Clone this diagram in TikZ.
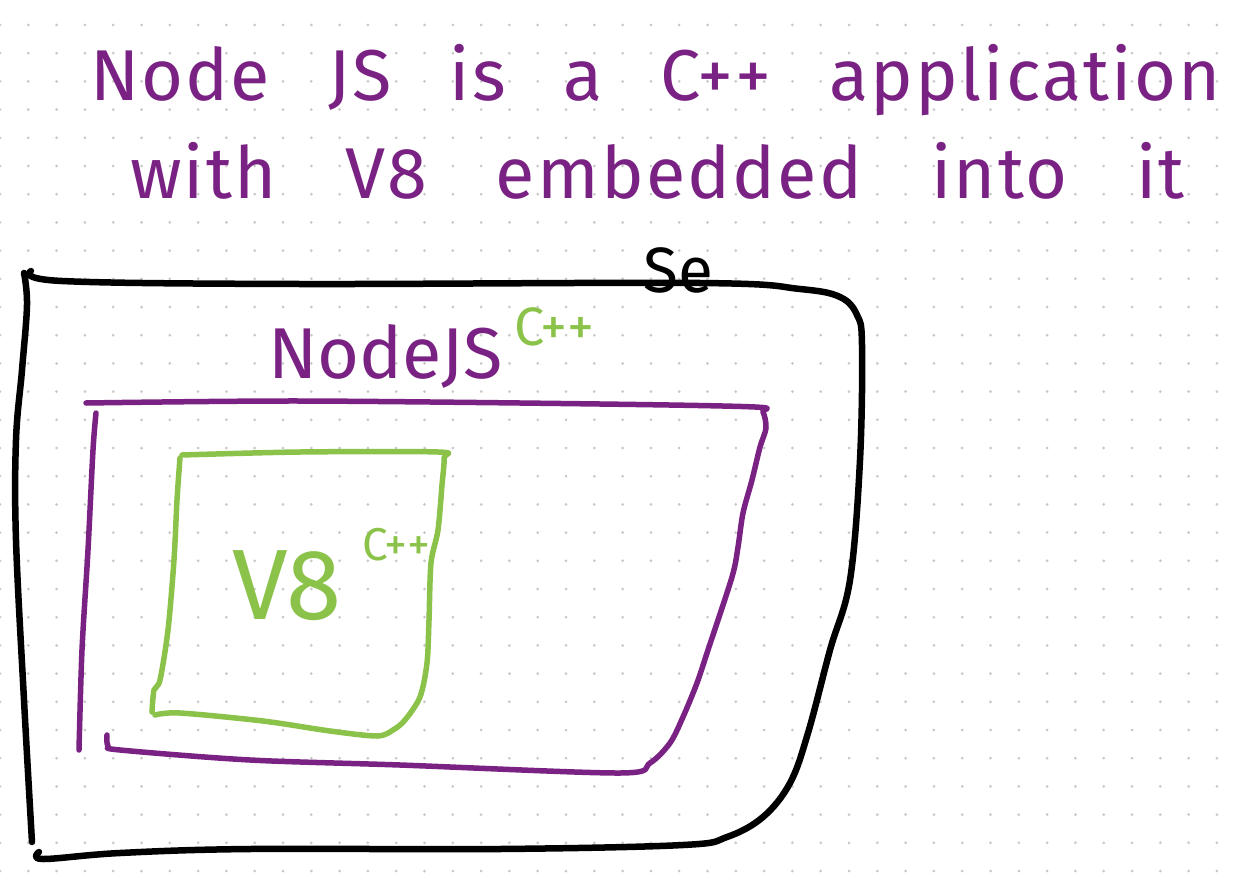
\documentclass[tikz,border=0pt]{standalone}
\usepackage{fontspec}
\setmainfont{Fira Sans}
\newfontfamily\handfont[LetterSpace=3]{Fira Sans}
\usetikzlibrary{positioning}
\definecolor{inkpurple}{RGB}{122,34,132}
\definecolor{inkgreen}{RGB}{139,195,74}
\definecolor{dotgray}{RGB}{200,200,200}
\tikzset{
  titleline/.style ={anchor=base west, inner sep=0pt, text=inkpurple,
    font=\handfont\fontsize{72}{80}\selectfont},
  boxlabel/.style  ={anchor=base west, inner sep=0pt},
  blackink/.style  ={draw=black, line width=6.5pt, line cap=round, line join=round},
  purpleink/.style ={draw=inkpurple, line width=5.5pt, line cap=round, line join=round},
  greenink/.style  ={draw=inkgreen, line width=5.5pt, line cap=round, line join=round},
}

\begin{document}
\begin{tikzpicture}[x=1pt, y=-1pt]

  \useasboundingbox (0,0) rectangle (1237,875);
  \fill[white] (0,0) rectangle (1237,875);
  % dotted paper
  \foreach \i in {0,...,43}
    \foreach \j in {0,...,30}
      \fill[dotgray] (28.3*\i, 25+28.2*\j) circle (1.5pt);

  \node[titleline, execute at begin node={\spaceskip=58pt\relax}] (titleone) at (90,100)
    {Node JS is a C++ application};
  \node[titleline, execute at begin node={\spaceskip=69pt\relax}] (titletwo) at (130,198)
    {with V8 embedded into it};

  % server box
  \draw[blackink] plot[smooth, tension=0.6] coordinates {(24,273) (27,305) (22,370)
    (16,440) (16,540) (24,700) (32,842)};
  \draw[blackink] plot[smooth, tension=0.6] coordinates {(31,271) (62,281) (300,284)
    (700,283) (800,289) (840,297) (857,315) (862,345) (860,460) (850,580) (830,650)
    (808,733) (790,783) (763,817) (727,837) (683,845) (500,849) (250,849) (120,853)
    (43,859) (39,852)};
  \node[boxlabel, font=\fontsize{64}{70}\selectfont] (server) at (643,292) {Se};

  % node box
  \draw[purpleink] plot[smooth, tension=0.5] coordinates {(86,403) (300,401) (600,404)
    (755,407) (763,412) (766,428) (760,447) (752,480) (743,513) (738,547) (732,577)
    (708,650) (697,683) (683,717) (670,743) (650,763) (620,773) (400,765) (250,760)
    (120,750) (108,746) (107,735)};
  \draw[purpleink] plot[smooth, tension=0.5] coordinates {(96,413) (93,450) (88,550)
    (82,650) (79,750)};
  \node[boxlabel, text=inkpurple, font=\fontsize{72}{78}\selectfont] (nodejs) at (268,378) {NodeJS};
  \node[boxlabel, text=inkgreen, font=\fontsize{54}{60}\selectfont] (nodecpp) at (514,345) {C++};

  % v8 box
  \draw[greenink] plot[smooth, tension=0.5] coordinates {(182,455) (300,452) (438,452)
    (444,458) (442,485) (438,530) (431,563) (429,620) (427,663) (420,697) (405,720)
    (393,730) (377,736) (330,731) (263,721) (180,713) (155,715)};
  \draw[greenink] plot[smooth, tension=0.5] coordinates {(180,458) (177,500) (174,560)
    (168,630) (160,680) (154,690) (152,712)};
  \node[boxlabel, text=inkgreen, font=\fontsize{100}{106}\selectfont] (veight) at (232,619) {V8};
  \node[boxlabel, text=inkgreen, font=\fontsize{46}{50}\selectfont] (veightcpp) at (362,560) {C++};

\end{tikzpicture}
\end{document}
